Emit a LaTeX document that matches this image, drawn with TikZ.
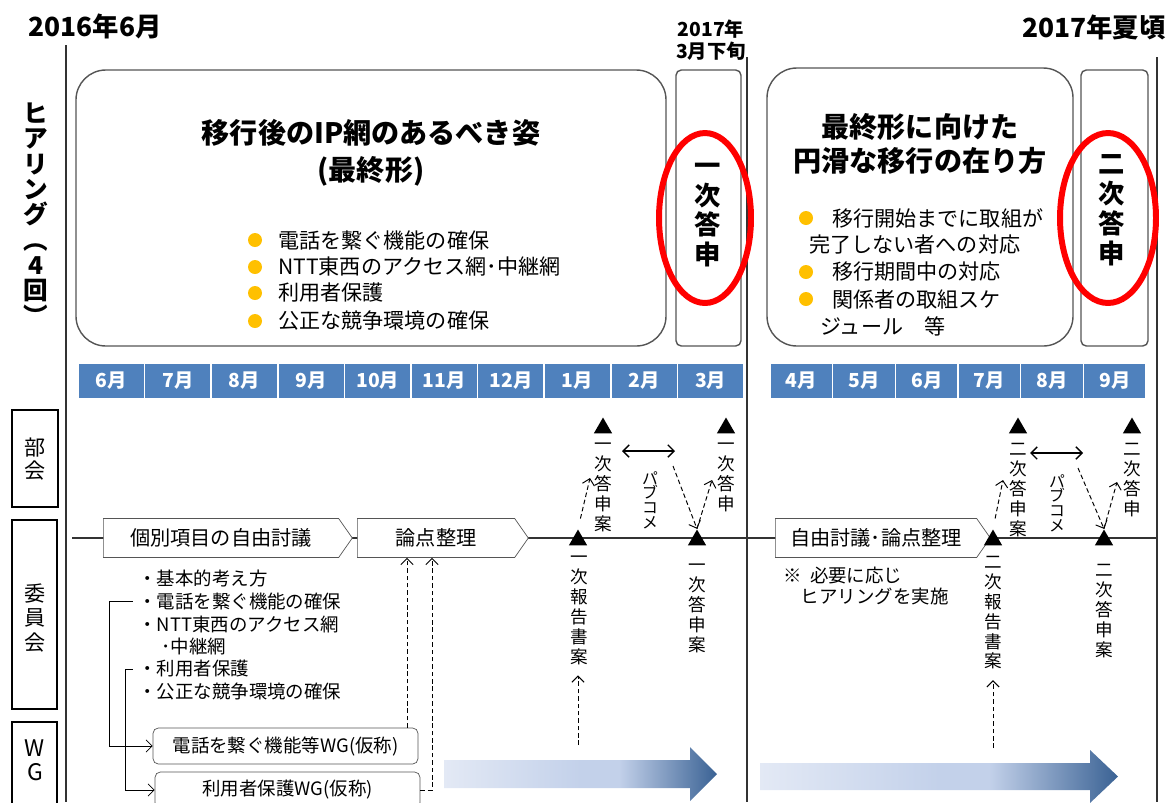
\documentclass[tikz,border=0pt]{standalone}
\usepackage{fontspec}
\setmainfont{Noto Sans CJK JP}
\usetikzlibrary{shapes.symbols,shapes.geometric,arrows.meta}

\definecolor{monthblue}{HTML}{4F81BD}
\definecolor{dotorange}{HTML}{FFC000}
\definecolor{boxgray}{HTML}{555555}
\definecolor{flowA}{HTML}{E3E9F5}
\definecolor{flowB}{HTML}{C3D1EA}
\definecolor{flowC}{HTML}{3A6294}
\pgfdeclarehorizontalshading{flow}{100bp}{color(0bp)=(flowA); color(25bp)=(flowA); color(50bp)=(flowB); color(57bp)=(flowB); color(75bp)=(flowC); color(100bp)=(flowC)}

\begin{document}
\begin{tikzpicture}[x=0.02cm, y=-0.02cm, >={Straight Barb[length=3.5pt,width=7pt]},
    every node/.style={inner sep=0pt},
    month/.style={fill=monthblue, draw=white, line width=0.8pt, text=white,
        font=\bfseries\fontsize{11}{12}\selectfont, minimum height=0.72cm},
    chev/.style={signal, signal to=east, signal pointer angle=110, draw=boxgray,
        fill=white, minimum height=0.78cm, font=\fontsize{11.5}{12}\selectfont},
    wgbox/.style={draw=boxgray, rounded corners=3pt, fill=white, minimum width=5.3cm,
        minimum height=0.72cm, font=\fontsize{10.5}{12}\selectfont},
    tri/.style={regular polygon, regular polygon sides=3, fill=black, minimum size=0.42cm},
    vlabel/.style={align=center, font=\fontsize{10}{11.3}\selectfont},
    item/.style={anchor=west, font=\fontsize{10.5}{12}\selectfont},
    point/.style={anchor=west, font=\fontsize{12}{14}\selectfont},
    dot/.style={circle, fill=dotorange, minimum size=0.28cm},
    dasharrow/.style={->, line width=0.55pt, dash pattern=on 2.6pt off 1.6pt}]
    \useasboundingbox (0,0) rectangle (1166,802);

    % time frame
    \draw[thick, black!80] (66,45) -- (66,802);
    \draw[thick, black!80] (747,57) -- (747,802);
    \draw[thick, black!80] (1157,57) -- (1157,802);
    \node[font=\bfseries\fontsize{15}{16}\selectfont] (start) at (95,26) {2016年6月};
    \node[align=center, font=\bfseries\fontsize{11}{12.5}\selectfont] (first) at (711,40) {2017年\\3月下旬};
    \node[anchor=east, font=\bfseries\fontsize{15}{16}\selectfont] (second) at (1166,27) {2017年夏頃};

    % hearing
    \node[align=center, font=\bfseries\fontsize{14}{14.4}\selectfont] (hearing) at (36,214)
        {ヒ\\ア\\リ\\ン\\グ\\︵\\4\\回\\︶};

    % final form
    \draw[boxgray, thick, rounded corners=17pt] (76,70) rectangle (666,346);
    \node[align=center, font=\bfseries\fontsize{16}{21}\selectfont] (goal) at (371,153)
        {移行後のIP網のあるべき姿\\(最終形)};
    \node[dot] (g1) at (255,240) {};
    \node[point] (g1t) at (278,240) {電話を繋ぐ機能の確保};
    \node[dot] (g2) at (255,267) {};
    \node[point] (g2t) at (278,267) {NTT東西のアクセス網･中継網};
    \node[dot] (g3) at (255,293) {};
    \node[point] (g3t) at (278,293) {利用者保護};
    \node[dot] (g4) at (255,321) {};
    \node[point] (g4t) at (278,321) {公正な競争環境の確保};

    \draw[boxgray, thick, rounded corners=3pt] (676,70) rectangle (741,346);
    \node[align=center, font=\bfseries\fontsize{15}{17}\selectfont] (reply1) at (708,215) {一\\次\\答\\申};
    \draw[red, line width=3.4pt] (705,218) ellipse [x radius=0.92cm, y radius=1.7cm];

    % transition
    \draw[boxgray, thick, rounded corners=17pt] (767,68) rectangle (1073,346);
    \node[align=center, font=\bfseries\fontsize{16}{19}\selectfont] (move) at (920,144)
        {最終形に向けた\\円滑な移行の在り方};
    \node[dot] (t1) at (806,218) {};
    \node[point] (t1t) at (832,218) {移行開始までに取組が};
    \node[point] (t1u) at (809,245) {完了しない者への対応};
    \node[dot] (t2) at (806,272) {};
    \node[point] (t2t) at (832,272) {移行期間中の対応};
    \node[dot] (t3) at (806,299) {};
    \node[point] (t3t) at (832,299) {関係者の取組スケ};
    \node[point] (t3u) at (820,326) {ジュール\quad 等};

    \draw[boxgray, thick, rounded corners=3pt] (1081,70) rectangle (1148,346);
    \node[align=center, font=\bfseries\fontsize{15}{17}\selectfont] (reply2) at (1112,210) {二\\次\\答\\申};
    \draw[red, line width=3.4pt] (1108,218) ellipse [x radius=0.96cm, y radius=1.7cm];

    % months
    \node[month, minimum width=1.332cm] (m6) at (111.3,381) {6月};
    \node[month, minimum width=1.332cm] (m7) at (177.9,381) {7月};
    \node[month, minimum width=1.332cm] (m8) at (244.5,381) {8月};
    \node[month, minimum width=1.332cm] (m9) at (311.1,381) {9月};
    \node[month, minimum width=1.332cm] (m10) at (377.7,381) {10月};
    \node[month, minimum width=1.332cm] (m11) at (444.3,381) {11月};
    \node[month, minimum width=1.332cm] (m12) at (510.9,381) {12月};
    \node[month, minimum width=1.332cm] (m1) at (577.5,381) {1月};
    \node[month, minimum width=1.332cm] (m2) at (644.1,381) {2月};
    \node[month, minimum width=1.332cm] (m3) at (710.7,381) {3月};
    \node[month, minimum width=1.254cm] (n4) at (801.4,381) {4月};
    \node[month, minimum width=1.254cm] (n5) at (864.1,381) {5月};
    \node[month, minimum width=1.254cm] (n6) at (926.8,381) {6月};
    \node[month, minimum width=1.254cm] (n7) at (989.4,381) {7月};
    \node[month, minimum width=1.254cm] (n8) at (1052.1,381) {8月};
    \node[month, minimum width=1.254cm] (n9) at (1114.8,381) {9月};

    % rows
    \draw[thick] (12,410) rectangle (58,507);
    \node[align=center, font=\fontsize{12}{12.8}\selectfont] (bukai) at (35,459) {部\\会};
    \draw[thick] (12,520) rectangle (57,709);
    \node[align=center, font=\fontsize{12}{14}\selectfont] (iinkai) at (35,618) {委\\員\\会};
    \draw[thick] (12,722) rectangle (57,830);
    \node[align=center, font=\fontsize{13}{13.6}\selectfont] (wg) at (35,760) {W\\G};

    % committee
    \draw[thick, black!80] (72,538) -- (1157,538);
    \node[chev, anchor=west, minimum width=4.98cm] (free) at (103,538) {個別項目の自由討議};
    \node[chev, anchor=west, minimum width=3.42cm] (issue) at (357,538) {論点整理};
    \node[chev, anchor=west, minimum width=4.3cm] (free2) at (775,538) {自由討議･論点整理};

    \node[item] (it1) at (138,578) {・基本的考え方};
    \node[item] (it2) at (138,601) {・電話を繋ぐ機能の確保};
    \node[item] (it3) at (138,624) {・NTT東西のアクセス網};
    \node[item] (it4) at (161,646) {･中継網};
    \node[item] (it5) at (138,669) {・利用者保護};
    \node[item] (it6) at (138,692) {・公正な競争環境の確保};
    \node[item, align=left] (note) at (783,586) {※\ \ 必要に応じ\\\hspace*{0.95em}ヒアリングを実施};

    % working groups
    \node[wgbox] (wg1) at (285.5,746) {電話を繋ぐ機能等WG(仮称)};
    \node[wgbox] (wg2) at (287.5,790) {利用者保護WG(仮称)};
    \draw[->] ([xshift=-3pt]it2.west) -- ++(-23,0) |- (wg1.west);
    \draw[->] ([xshift=-3pt]it5.west) -- ++(-7,0) |- (wg2.west);
    \coordinate (up1) at (407,0);
    \coordinate (up2) at (432,0);
    \draw[dasharrow] (wg1.north -| up1) -- (issue.south -| up1);
    \draw[dasharrow] (wg2.east) -- (wg2.east -| up2) -- (issue.south -| up2);

    % first report
    \node[tri] (rep1) at (578,540) {};
    \node[vlabel, anchor=north] (rep1t) at (579,556) {一\\次\\報\\告\\書\\案};
    \node[tri] (draft1) at (697,540) {};
    \node[vlabel, anchor=north] (draft1t) at (697,564) {一\\次\\答\\申\\案};
    \node[tri] (pdraft1) at (603,428) {};
    \node[vlabel, anchor=north] (pdraft1t) at (603,443) {一\\次\\答\\申\\案};
    \node[tri] (reply1m) at (726,428) {};
    \node[vlabel, anchor=north] (reply1t) at (726,443) {一\\次\\答\\申};
    \node[align=center, font=\fontsize{9}{8.4}\selectfont] (pub1) at (650,500) {パ\\ブ\\コ\\メ};
    \coordinate (pc1a) at (590,478);
    \coordinate (pc1b) at (673,466);
    \coordinate (pc1c) at (712,480);
    \coordinate (pb1l) at (622,451);
    \coordinate (pb1r) at (675,451);
    \coordinate (rin1) at (578,745);
    \draw[dasharrow, shorten <=6pt] (rep1.north) -- (pc1a);
    \draw[dasharrow] (pc1b) -- (draft1.north);
    \draw[dasharrow] (draft1.north) -- (pc1c);
    \draw[<->, thick] (pb1l) -- (pb1r);
    \draw[dasharrow, shorten >=6pt] (rin1) -- (rep1t.south -| rin1);

    % second report
    \node[tri] (rep2) at (993,540) {};
    \node[vlabel, anchor=north] (rep2t) at (993,556) {二\\次\\報\\告\\書\\案};
    \node[tri] (draft2) at (1104,540) {};
    \node[vlabel, anchor=north] (draft2t) at (1104,564) {二\\次\\答\\申\\案};
    \node[tri] (pdraft2) at (1018,428) {};
    \node[vlabel, anchor=north] (pdraft2t) at (1018,443) {二\\次\\答\\申\\案};
    \node[tri] (reply2m) at (1132,428) {};
    \node[vlabel, anchor=north] (reply2t) at (1132,443) {二\\次\\答\\申};
    \node[align=center, font=\fontsize{9}{8.4}\selectfont] (pub2) at (1057,503) {パ\\ブ\\コ\\メ};
    \coordinate (pc2a) at (1003,480);
    \coordinate (pc2b) at (1078,468);
    \coordinate (pc2c) at (1117,482);
    \coordinate (pb2l) at (1030,453);
    \coordinate (pb2r) at (1083,453);
    \coordinate (rin2) at (993,748);
    \draw[dasharrow, shorten <=6pt] (rep2.north) -- (pc2a);
    \draw[dasharrow] (pc2b) -- (draft2.north);
    \draw[dasharrow] (draft2.north) -- (pc2c);
    \draw[<->, thick] (pb2l) -- (pb2r);
    \draw[dasharrow, shorten >=6pt] (rin2) -- (rep2t.south -| rin2);

    % flow
    \shade[shading=flow] (444,760) -- (690,760) -- (690,747) -- (717,774) -- (690,801)
        -- (690,788) -- (444,788) -- cycle;
    \shade[shading=flow] (760,763) -- (1090,763) -- (1090,750) -- (1118,776.5) -- (1090,803)
        -- (1090,790) -- (760,790) -- cycle;
\end{tikzpicture}
\end{document}
